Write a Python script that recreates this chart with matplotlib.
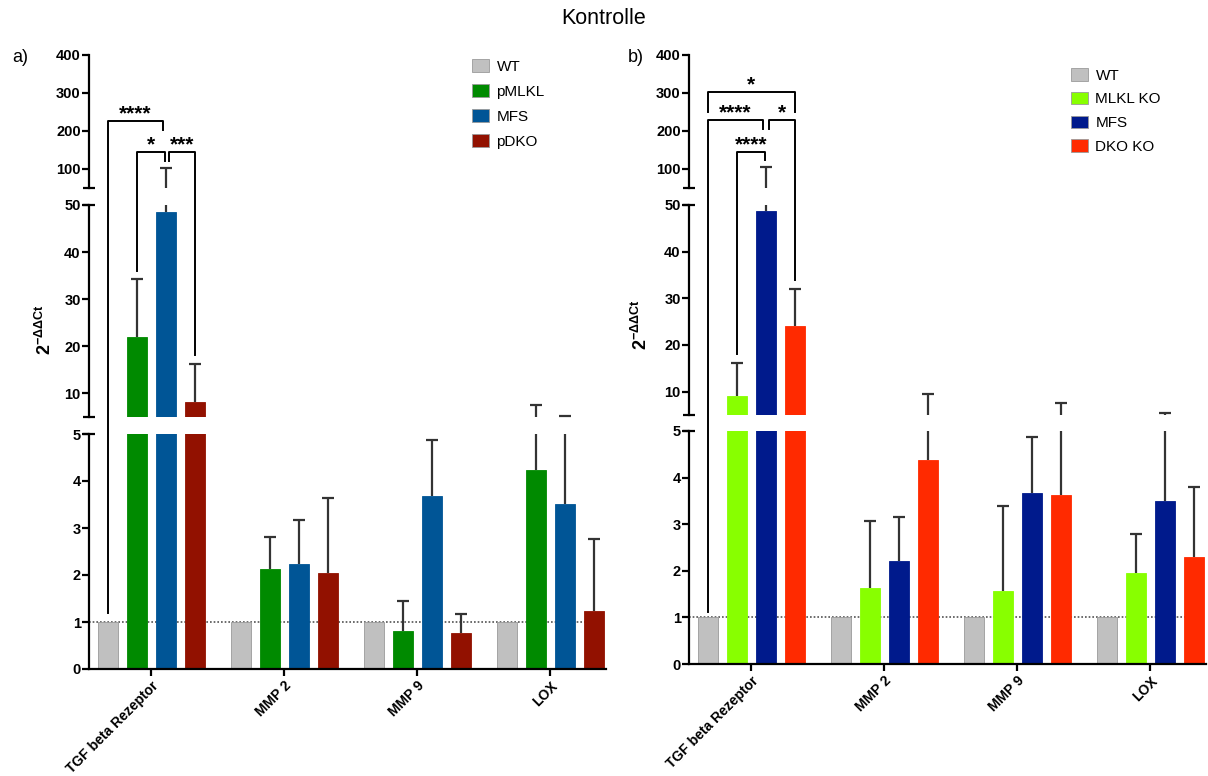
import matplotlib
matplotlib.use("Agg")
import matplotlib.pyplot as plt
import numpy as np
from matplotlib.lines import Line2D
from matplotlib.patches import Patch

plt.rcParams["font.family"] = ["Liberation Sans", "DejaVu Sans"]
plt.rcParams["mathtext.fontset"] = "custom"
plt.rcParams["mathtext.rm"] = "Liberation Sans"
plt.rcParams["mathtext.bf"] = "Liberation Sans:bold"

W, H = 1208, 776

GENE = ["TGF beta Rezeptor", "MMP 2", "MMP 9", "LOX"]

# ---- a) ----
GRUPPEN_A = ["WT", "pMLKL", "MFS", "pDKO"]
FARBEN_A = ["#c0c0c0", "#008a00", "#005596", "#921100"]
WT_A = [1.0, 1.0, 1.0, 1.0]
PMLKL_A = [22.0, 2.13, 0.80, 4.24]
MFS_A = [48.6, 2.23, 3.69, 3.51]
PDKO_A = [8.2, 2.04, 0.76, 1.23]
SD_WT_A = [0, 0, 0, 0]
SD_PMLKL_A = [12.3, 0.67, 0.65, 3.31]
SD_MFS_A = [53.4, 0.94, 1.19, 1.79]
SD_PDKO_A = [8.0, 1.60, 0.40, 1.54]

# ---- b) ----
GRUPPEN_B = ["WT", "MLKL KO", "MFS", "DKO KO"]
FARBEN_B = ["#c0c0c0", "#88ff00", "#001a8c", "#ff2a00"]
WT_B = [1.0, 1.0, 1.0, 1.0]
MLKL_B = [9.0, 1.63, 1.57, 1.95]
MFS_B = [48.8, 2.22, 3.68, 3.50]
DKO_B = [24.1, 4.38, 3.62, 2.30]
SD_WT_B = [0, 0, 0, 0]
SD_MLKL_B = [7.2, 1.43, 1.81, 0.84]
SD_MFS_B = [55.2, 0.93, 1.19, 1.85]
SD_DKO_B = [7.9, 5.12, 3.88, 1.49]

# Signifikanz-Klammern in TGF beta: (Balken links, Balken rechts, Hoehe, Ende links, Ende rechts, Text)
KLAMMERN_A = [
    (0, 2, 226, 1.19, 203, "****"),
    (1, 2, 145, 36, 122, "*"),
    (2, 3, 145, 122, 18.1, "***"),
]
KLAMMERN_B = [
    (0, 3, 302, 250, 250, "*"),
    (0, 2, 228, 1.12, 204, "****"),
    (2, 3, 228, 204, 34, "*"),
    (1, 2, 145, 18.1, 124, "****"),
]

SEGMENTE = [(50, 400), (5, 50), (0, 5)]
TICKS = [[100, 200, 300, 400], [10, 20, 30, 40, 50], [0, 1, 2, 3, 4, 5]]

BREITE = 0.15
ABSTAND = 0.218
XLIM = (-0.47, 3.42)


def px_box(x0, x1, y0, y1):
    return [x0 / W, 1 - y1 / H, (x1 - x0) / W, (y1 - y0) / H]


def segment_achsen(fig, x0, x1, y_grenzen):
    achsen = []
    for i, ((y0, y1), (lo, hi)) in enumerate(zip(y_grenzen, SEGMENTE)):
        ax = fig.add_axes(px_box(x0, x1, y0, y1))
        ax.set_xlim(*XLIM)
        ax.set_ylim(lo, hi)
        ax.set_yticks(TICKS[i])
        for s in ["top", "right"]:
            ax.spines[s].set_visible(False)
        ax.spines["left"].set_linewidth(1.6)
        ax.tick_params(axis="y", direction="out", length=5, width=1.6,
                       labelsize=10.5, pad=1)
        for lab in ax.get_yticklabels():
            lab.set_fontweight("bold")
        # kleine Querstriche an den Bruchstellen
        enden = {0: [lo], 1: [lo, hi], 2: [hi]}[i]
        for v in enden:
            ax.plot([-0.011, 0.011], [v, v], transform=ax.get_yaxis_transform(),
                    color="black", lw=1.6, clip_on=False, solid_capstyle="butt")
        if i < 2:
            ax.spines["bottom"].set_visible(False)
            ax.set_xticks([])
        else:
            ax.spines["bottom"].set_linewidth(1.6)
            ax.set_xticks(np.arange(len(GENE)))
            ax.set_xticklabels(GENE, rotation=45, ha="right", va="top",
                               rotation_mode="anchor", fontsize=10,
                               fontweight="bold")
            ax.tick_params(axis="x", direction="out", length=5, width=1.6, pad=2)
            ax.axhline(1, color="#444444", lw=1.1, ls=(0, (1.1, 1.3)), zorder=0.5)
        achsen.append(ax)
    return achsen


def balken(achsen, werte, fehler, farben):
    x = np.arange(len(GENE))
    for ax in achsen:
        lo, hi = ax.get_ylim()
        for k, (w, f, c) in enumerate(zip(werte, fehler, farben)):
            pos = x + (k - 1.5) * ABSTAND
            w = np.array(w, dtype=float)
            f = np.array(f, dtype=float)
            ax.bar(pos, w, BREITE, color=c, edgecolor="#9a9a9a" if k == 0 else c,
                   linewidth=0.6, zorder=2)
            m = f > 0
            if not m.any():
                continue
            # nur obere Fehlerbalken
            ax.vlines(pos[m], w[m], w[m] + f[m], color="#333333", lw=1.6, zorder=1.5)
            oben = w + f
            sichtbar = m & (oben > lo) & (oben < hi)
            ax.plot(pos[sichtbar], oben[sichtbar], ls="none", marker="_",
                    ms=9, mew=1.6, color="#333333", zorder=1.5)


def in_figur(fig, achsen, x, y):
    if y >= 50:
        ax = achsen[0]
    elif y >= 5:
        ax = achsen[1]
    else:
        ax = achsen[2]
    d = ax.transData.transform((x, y))
    return fig.transFigure.inverted().transform(d)


def klammern(fig, achsen, liste):
    for (l, r, h, yl, yr, txt) in liste:
        xl = (l - 1.5) * ABSTAND
        xr = (r - 1.5) * ABSTAND
        # versatz, damit sich Klammern am MFS-Balken nicht ueberlappen
        if r == 2 and l == 0:
            xr -= 0.02
        elif r == 2:
            xr -= 0.005
        if l == 2:
            xl += 0.02
        pts = [in_figur(fig, achsen, xl, yl), in_figur(fig, achsen, xl, h),
               in_figur(fig, achsen, xr, h), in_figur(fig, achsen, xr, yr)]
        pts = np.array(pts)
        fig.add_artist(Line2D(pts[:, 0], pts[:, 1], color="black", lw=1.4,
                              transform=fig.transFigure))
        fig.text(pts[1:3, 0].mean(), pts[1, 1] - 2 / H, txt, ha="center",
                 va="bottom", fontsize=15, fontweight="bold")


fig = plt.figure(figsize=(W / 100, H / 100), dpi=100)

achsen_a = segment_achsen(fig, 89, 606, [(55, 188), (205, 417), (434, 669)])
balken(achsen_a, [WT_A, PMLKL_A, MFS_A, PDKO_A],
       [SD_WT_A, SD_PMLKL_A, SD_MFS_A, SD_PDKO_A], FARBEN_A)
klammern(fig, achsen_a, KLAMMERN_A)

achsen_b = segment_achsen(fig, 689, 1206, [(55, 188), (205, 415), (431, 664)])
balken(achsen_b, [WT_B, MLKL_B, MFS_B, DKO_B],
       [SD_WT_B, SD_MLKL_B, SD_MFS_B, SD_DKO_B], FARBEN_B)
klammern(fig, achsen_b, KLAMMERN_B)

# Legenden
for ax, gruppen, farben, (lx, ly), abst in [
        (achsen_a[0], GRUPPEN_A, FARBEN_A, (472, 59), 0.68),
        (achsen_b[0], GRUPPEN_B, FARBEN_B, (1071, 68), 0.6)]:
    handles = [Patch(facecolor=c, edgecolor="#9a9a9a", linewidth=0.6) for c in farben]
    ax.legend(handles, gruppen, loc="upper left", bbox_to_anchor=(lx / W, 1 - ly / H),
              bbox_transform=fig.transFigure, frameon=False, fontsize=11,
              handlelength=1.1, handleheight=0.9, handletextpad=0.5,
              labelspacing=abst, borderpad=0, borderaxespad=0)

ylab = r"$\mathbf{2^{-ΔΔCt}}$"
fig.text(45 / W, 1 - 330 / H, ylab, rotation=90, ha="center", va="center", fontsize=13)
fig.text(641 / W, 1 - 325 / H, ylab, rotation=90, ha="center", va="center", fontsize=13)

fig.text(20 / W, 1 - 58 / H, "a)", ha="center", va="center", fontsize=13)
fig.text(636 / W, 1 - 58 / H, "b)", ha="center", va="center", fontsize=13)
fig.text(0.5, 1 - 18 / H, "Kontrolle", ha="center", va="center", fontsize=15.5)

fig.savefig("out.png", dpi=100)
